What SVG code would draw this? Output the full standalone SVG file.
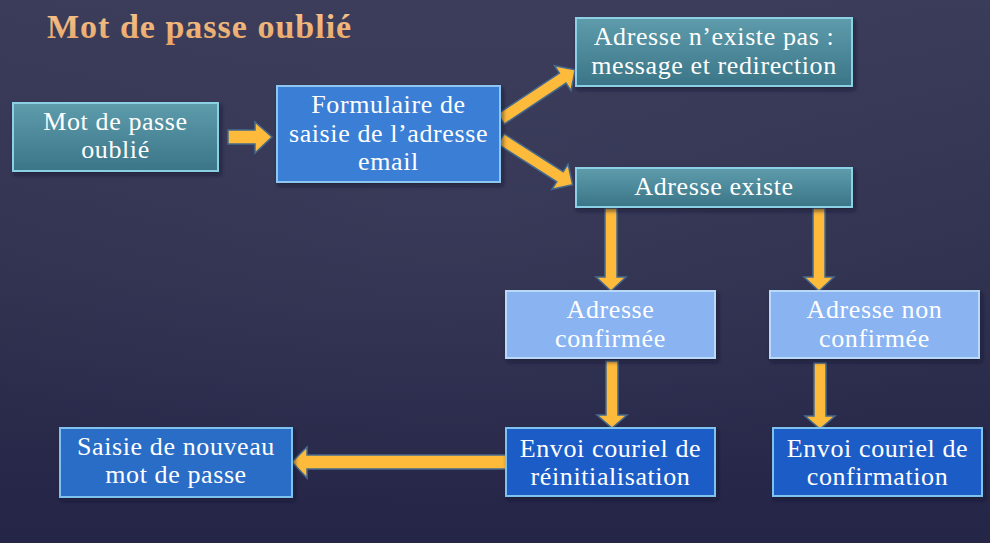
<svg xmlns="http://www.w3.org/2000/svg" width="990" height="543" viewBox="0 0 990 543">
  <defs>
    <linearGradient id="bg" x1="0" y1="0" x2="0" y2="1">
      <stop offset="0" stop-color="#3A3C59"/>
      <stop offset="0.5" stop-color="#31324F"/>
      <stop offset="1" stop-color="#242547"/>
    </linearGradient>
    <radialGradient id="glow" cx="0.45" cy="0.35" r="0.6">
      <stop offset="0" stop-color="#45476A" stop-opacity="0.3"/>
      <stop offset="1" stop-color="#45476A" stop-opacity="0"/>
    </radialGradient>
    <linearGradient id="teal" x1="0" y1="0" x2="0" y2="1">
      <stop offset="0" stop-color="#5E9CAC"/>
      <stop offset="1" stop-color="#3A7587"/>
    </linearGradient>
    <linearGradient id="title" x1="0" y1="0" x2="0" y2="1">
      <stop offset="0" stop-color="#F7C48E"/>
      <stop offset="1" stop-color="#E8A665"/>
    </linearGradient>
    <filter id="sh" x="-10%" y="-10%" width="125%" height="135%">
      <feDropShadow dx="2" dy="3" stdDeviation="2" flood-color="#10102A" flood-opacity="0.6"/>
    </filter>
  </defs>
  <style>
    .box { stroke-width: 2; filter: url(#sh); }
    .teal { fill: url(#teal); stroke: #8CD0E6; }
    .mid { fill: #3A7ED6; stroke: #8EC6F2; }
    .light { fill: #8AB3F2; stroke: #B9D9F8; }
    .dark { fill: #1F5CC7; stroke: #80C2EE; }
    .saisie { fill: #2A6DC7; stroke: #80C2EE; }
    .lbl { font-family: "Liberation Serif", "DejaVu Serif", serif; font-size: 26px; fill: #FFFFFF; text-anchor: middle; letter-spacing: 0.6px; }
    .arrow { fill: #FDBA3B; stroke: #456A8E; stroke-width: 1.5; stroke-linejoin: miter; }
    .ttl { font-family: "Liberation Serif", "DejaVu Serif", serif; font-size: 34px; font-weight: bold; fill: url(#title); letter-spacing: 1px; }
  </style>

  <rect x="0" y="0" width="990" height="543" fill="url(#bg)"/>
  <rect x="0" y="0" width="990" height="543" fill="url(#glow)"/>

  <text class="ttl" x="47" y="38">Mot de passe oublié</text>

  <g id="connectors">
    <polygon class="arrow" points="228,130 255,130 255,122 272,137 255,153 255,144 228,144"/>
    <polygon class="arrow" transform="translate(501,119) rotate(-33.5)" points="0,-6 74,-6 74,-15 89,0 74,15 74,6 0,6"/>
    <polygon class="arrow" transform="translate(501,139) rotate(32.6)" points="0,-6 70,-6 70,-15 85,0 70,15 70,6 0,6"/>
    <polygon class="arrow" points="605,208 617,208 617,277 626,277 611,291 596,277 605,277"/>
    <polygon class="arrow" points="813,208 825,208 825,277 834,277 819,291 804,277 813,277"/>
    <polygon class="arrow" points="606,361 618,361 618,415 627,415 612,428 597,415 606,415"/>
    <polygon class="arrow" points="814,363 826,363 826,416 835,416 820,429 805,416 814,416"/>
    <polygon class="arrow" points="506,455 307,455 307,447 292,462 307,478 307,469 506,469"/>
  </g>

  <g id="n-mdp">
    <rect class="box teal" x="13" y="103" width="205" height="68"/>
    <text class="lbl" x="115.5" y="130">Mot de passe</text>
    <text class="lbl" x="115.5" y="158">oublié</text>
  </g>

  <g id="n-formulaire">
    <rect class="box mid" x="277" y="86" width="223" height="96"/>
    <text class="lbl" x="388.5" y="113">Formulaire de</text>
    <text class="lbl" x="388.5" y="142">saisie de l’adresse</text>
    <text class="lbl" x="388.5" y="170">email</text>
  </g>

  <g id="n-inexistante">
    <rect class="box teal" x="576" y="18" width="276" height="68"/>
    <text class="lbl" x="714" y="45">Adresse n’existe pas :</text>
    <text class="lbl" x="714" y="74">message et redirection</text>
  </g>

  <g id="n-existe">
    <rect class="box teal" x="576" y="168" width="276" height="39"/>
    <text class="lbl" x="714" y="195">Adresse existe</text>
  </g>

  <g id="n-confirmee">
    <rect class="box light" x="506" y="291" width="209" height="67"/>
    <text class="lbl" x="610.5" y="318">Adresse</text>
    <text class="lbl" x="610.5" y="347">confirmée</text>
  </g>

  <g id="n-nonconfirmee">
    <rect class="box light" x="770" y="291" width="209" height="67"/>
    <text class="lbl" x="874.5" y="318">Adresse non</text>
    <text class="lbl" x="874.5" y="347">confirmée</text>
  </g>

  <g id="n-reinit">
    <rect class="box dark" x="506" y="428" width="209" height="68"/>
    <text class="lbl" x="610.5" y="457">Envoi couriel de</text>
    <text class="lbl" x="610.5" y="485">réinitialisation</text>
  </g>

  <g id="n-confirmation">
    <rect class="box dark" x="773" y="428" width="209" height="68"/>
    <text class="lbl" x="877.5" y="457">Envoi couriel de</text>
    <text class="lbl" x="877.5" y="485">confirmation</text>
  </g>

  <g id="n-saisie">
    <rect class="box saisie" x="60" y="428" width="232" height="69"/>
    <text class="lbl" x="176" y="455">Saisie de nouveau</text>
    <text class="lbl" x="176" y="483">mot de passe</text>
  </g>
</svg>
